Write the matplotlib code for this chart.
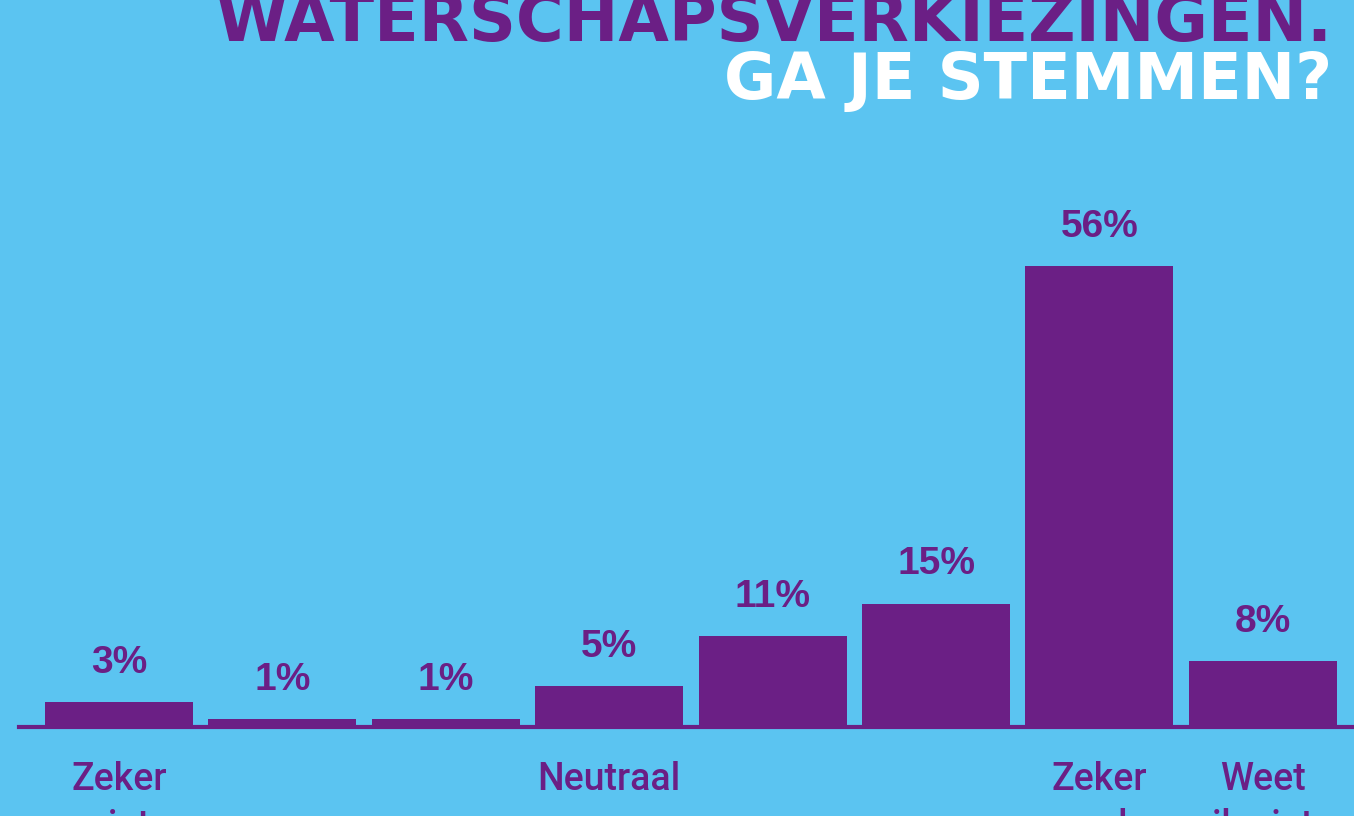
import numpy as np
import matplotlib.pyplot as plt

# data
categories = ["Zeker\nniet", "", "", "Neutraal", "", "", "Zeker\nwel", "Weet\nik niet"]
values = [3, 1, 1, 5, 11, 15, 56, 8]
value_labels = ["3%", "1%", "1%", "5%", "11%", "15%", "56%", "8%"]
title_top = "WATERSCHAPSVERKIEZINGEN."
title_bottom = "GA JE STEMMEN?"

bg = "#5BC4F1"
purple = "#6B1F85"

fig = plt.figure(figsize=(13.54, 8.16), dpi=100, facecolor=bg)
W, H = 1354, 816
ax = fig.add_axes([19 / W, (H - 727) / H, 1 - 19 / W, 576 / H])
ax.set_facecolor(bg)

x = np.arange(len(values))
ax.bar(x, values, width=0.906, color=purple, zorder=2)
ax.set_xlim(-0.612, 7.558)
ax.set_ylim(0, 70)

# baseline
ax.axhline(0, color=purple, linewidth=3, clip_on=False, zorder=3)

for s in ax.spines.values():
    s.set_visible(False)
ax.set_xticks([])
ax.set_yticks([])

for xi, v, lab in zip(x, values, value_labels):
    ax.annotate(lab, (xi, v), xytext=(0, 21), textcoords="offset points",
                ha="center", va="baseline", fontsize=28, fontweight="bold",
                family="Liberation Sans", color=purple)

# category labels, one line at a time so the first baseline stays fixed
for xi, cat in zip(x, categories):
    for k, line in enumerate(cat.split("\n")):
        if not line:
            continue
        ax.annotate(line, (xi, 0), xytext=(0, -45 - 34 * k), textcoords="offset points",
                    ha="center", va="baseline", fontsize=27, fontweight=500,
                    family="Roboto", color=purple, annotation_clip=False)

fig.text(1332 / W, 1 - 41 / H, title_top, ha="right", va="baseline",
         fontsize=47, fontweight="bold", family="DejaVu Sans", color=purple)
fig.text(1332 / W, 1 - 99 / H, title_bottom, ha="right", va="baseline",
         fontsize=46, fontweight="bold", family="DejaVu Sans", color="white")

fig.savefig("out.png", dpi=100, facecolor=bg)
